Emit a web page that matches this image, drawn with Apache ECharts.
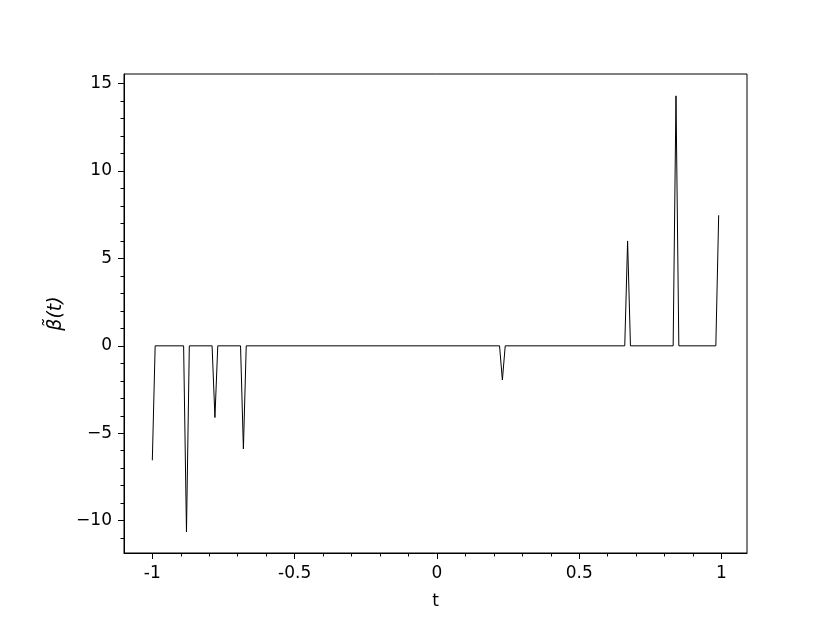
<!DOCTYPE html>
<html>
<head>
<meta charset="utf-8">
<script src="https://cdn.jsdelivr.net/npm/echarts@6/dist/echarts.min.js"></script>
<style>
html,body{margin:0;padding:0;background:#fff;}
#c{width:830px;height:623px;}
</style>
</head>
<body>
<div id="c"></div>
<script>
// Break points of the piecewise-linear curve (t, beta~(t))
const tValues = [-1.00, -0.99, -0.89, -0.88, -0.87, -0.79, -0.78, -0.77, -0.69, -0.68, -0.67,
                 0.22, 0.23, 0.24, 0.66, 0.67, 0.68, 0.83, 0.84, 0.85, 0.98, 0.99];
const betaValues = [-6.55, 0, 0, -10.65, 0, 0, -4.1, 0, 0, -5.9, 0,
                    0, -1.95, 0, 0, 6.0, 0, 0, 14.3, 0, 0, 7.47];
const xTicks = [-1, -0.5, 0, 0.5, 1];
const xMinorTicks = [-1.0, -0.9, -0.8, -0.7, -0.6, -0.5, -0.4, -0.3, -0.2, -0.1, 0, 0.1, 0.2, 0.3, 0.4, 0.5, 0.6, 0.7, 0.8, 0.9, 1.0];
const yTicks = [-10, -5, 0, 5, 10, 15];
const yMinorTicks = [-11, -10, -9, -8, -7, -6, -5, -4, -3, -2, -1, 0, 1, 2, 3, 4, 5, 6, 7, 8, 9, 10, 11, 12, 13, 14, 15];

const X_MIN = -1.0995, X_MAX = 1.0895;
const Y_MIN = -11.85, Y_MAX = 15.55;
const FONT = 'DejaVu Sans';

const chart = echarts.init(document.getElementById('c'), null, {renderer: 'canvas'});
const data = tValues.map((t, i) => [t, betaValues[i]]);

function xFmt(v) { return String(Math.round(v * 10) / 10); }
function yFmt(v) { return v < 0 ? '\u2212' + String(-v) : String(v); }

chart.setOption({
  animation: false,
  backgroundColor: '#fff',
  grid: {left: 124, right: 83, top: 74, bottom: 70, show: true, borderColor: '#000', borderWidth: 1, backgroundColor: 'transparent'},
  xAxis: [
    {
      type: 'value', min: X_MIN, max: X_MAX, position: 'bottom',
      name: 't', nameLocation: 'middle', nameGap: 40,
      nameTextStyle: {fontFamily: FONT, fontSize: 17, color: '#000'},
      axisLine: {show: true, onZero: false, lineStyle: {color: '#000', width: 1}},
      axisTick: {show: true, inside: false, length: 6, lineStyle: {color: '#000', width: 1}, customValues: xTicks},
      axisLabel: {show: true, margin: 12, fontFamily: FONT, fontSize: 17, color: '#000', customValues: xTicks, formatter: xFmt},
      splitLine: {show: false}
    },
    {
      type: 'value', min: X_MIN, max: X_MAX, position: 'bottom', gridIndex: 0,
      axisLine: {show: false, onZero: false},
      axisTick: {show: true, inside: false, length: 3.5, lineStyle: {color: '#000', width: 1}, customValues: xMinorTicks},
      axisLabel: {show: false},
      splitLine: {show: false}
    }
  ],
  yAxis: [
    {
      type: 'value', min: Y_MIN, max: Y_MAX, position: 'left',
      name: '\u03B2\u0303(t)', nameLocation: 'middle', nameGap: 54, nameRotate: 90,
      nameTextStyle: {fontFamily: FONT, fontSize: 19, color: '#000', fontStyle: 'italic'},
      axisLine: {show: true, onZero: false, lineStyle: {color: '#000', width: 1}},
      axisTick: {show: true, inside: false, length: 6, lineStyle: {color: '#000', width: 1}, customValues: yTicks},
      axisLabel: {show: true, margin: 12, fontFamily: FONT, fontSize: 17, color: '#000', customValues: yTicks, formatter: yFmt},
      splitLine: {show: false}
    },
    {
      type: 'value', min: Y_MIN, max: Y_MAX, position: 'left', gridIndex: 0,
      axisLine: {show: false, onZero: false},
      axisTick: {show: true, inside: false, length: 3.5, lineStyle: {color: '#000', width: 1}, customValues: yMinorTicks},
      axisLabel: {show: false},
      splitLine: {show: false}
    }
  ],
  series: [{
    type: 'line', xAxisIndex: 0, yAxisIndex: 0,
    data: data, showSymbol: false, symbol: 'none',
    lineStyle: {color: '#000', width: 1}, clip: true
  }]
});
</script>
</body>
</html>
